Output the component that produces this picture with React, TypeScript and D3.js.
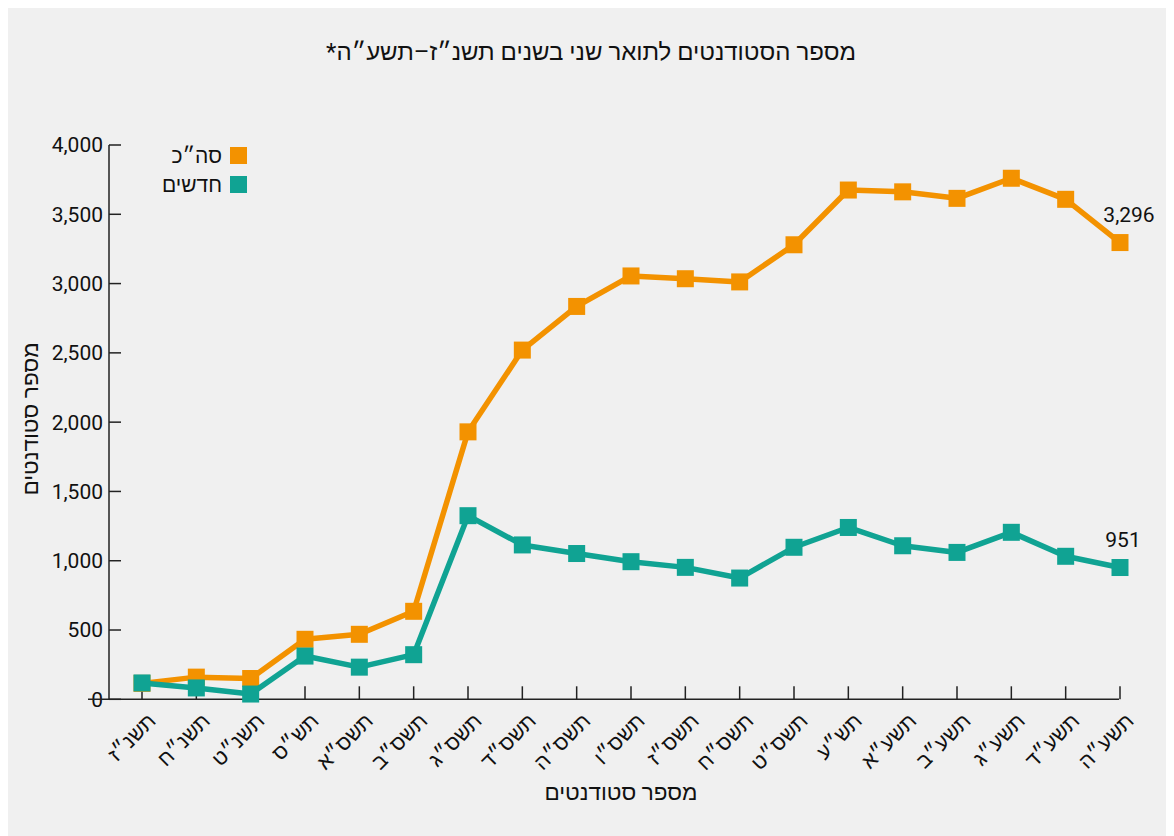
import { scaleLinear, scalePoint, line, format } from 'd3';
import { useEffect } from 'react';

const years = [
  'תשנ״ז', 'תשנ״ח', 'תשנ״ט', 'תש״ס', 'תשס״א', 'תשס״ב', 'תשס״ג', 'תשס״ד', 'תשס״ה', 'תשס״ו',
  'תשס״ז', 'תשס״ח', 'תשס״ט', 'תש״ע', 'תשע״א', 'תשע״ב', 'תשע״ג', 'תשע״ד', 'תשע״ה',
];
const total = [
  115, 160, 150, 433, 469, 635, 1930, 2520, 2835, 3055, 3035, 3012, 3280, 3675, 3662, 3615, 3760,
  3608, 3296,
];
const newcomers = [
  118, 82, 38, 312, 232, 322, 1325, 1114, 1052, 993, 952, 875, 1097, 1240, 1108, 1060, 1205, 1032,
  951,
];
const yTicks = [0, 500, 1000, 1500, 2000, 2500, 3000, 3500, 4000];

const seriesNames = ['סה״כ', 'חדשים'];
const colors = ['#f39200', '#10a393'];

const W = 1166;
const H = 828;
const FONT = "Roboto, 'Liberation Sans', Arial, sans-serif";

export default function App() {
  useEffect(() => {
    document.documentElement.style.overflow = 'hidden';
  }, []);

  const x = scalePoint<string>().domain(years).range([134, 1112]);
  const y = scaleLinear().domain([0, 4000]).range([691.3, 137]);
  const fmt = format(',');

  const path = line<number>()
    .x((d, i) => x(years[i])!)
    .y(d => y(d));

  const series = [total, newcomers];
  const sq = 17;

  return (
    <svg width={W} height={H} style={{ display: 'block', background: '#f0f0f0' }} fontFamily={FONT}>
      <text x={583} y={52} fontSize={24} textAnchor="middle" direction="rtl" fill="#111">
        מספר הסטודנטים לתואר שני בשנים תשנ״ז–תשע״ה*
      </text>

      {/* y axis */}
      <line x1={101} x2={101} y1={y(4000)} y2={y(0)} stroke="#222" strokeWidth={1.5} />
      {yTicks.map(t => (
        <g key={t}>
          <line x1={101} x2={113} y1={y(t)} y2={y(t)} stroke="#222" strokeWidth={1.5} />
          <text x={95} y={y(t)} dy="0.35em" fontSize={21} textAnchor="end" fill="#111">
            {fmt(t)}
          </text>
        </g>
      ))}

      {/* x axis */}
      <line x1={80} x2={1111} y1={y(0)} y2={y(0)} stroke="#222" strokeWidth={1.5} />
      {years.map(yr => (
        <g key={yr}>
          <line x1={x(yr)} x2={x(yr)} y1={y(0)} y2={y(0) - 13} stroke="#222" strokeWidth={1.5} />
          <text
            transform={`translate(${x(yr)! + 15},${y(0) + 23}) rotate(-45)`}
            fontSize={21}
            textAnchor="end"
            fill="#111"
          >
            {yr}
          </text>
        </g>
      ))}

      <text x={613} y={792} fontSize={22.5} textAnchor="middle" fill="#111">
        מספר סטודנטים
      </text>
      <text transform="translate(30,411) rotate(-90)" fontSize={22.5} textAnchor="middle" fill="#111">
        מספר סטודנטים
      </text>

      {/* lines and markers */}
      {series.map((s, k) => (
        <g key={k}>
          <path d={path(s)!} fill="none" stroke={colors[k]} strokeWidth={5.5} strokeLinejoin="round" />
          {s.map((v, i) => (
            <rect
              key={i}
              x={x(years[i])! - sq / 2}
              y={y(v) - sq / 2}
              width={sq}
              height={sq}
              fill={colors[k]}
            />
          ))}
        </g>
      ))}

      {/* end labels */}
      <text x={1121} y={y(total[total.length - 1]) - 21} fontSize={21} textAnchor="middle" fill="#111">
        {fmt(total[total.length - 1])}
      </text>
      <text x={1115} y={y(newcomers[newcomers.length - 1]) - 21} fontSize={21} textAnchor="middle" fill="#111">
        {fmt(newcomers[newcomers.length - 1])}
      </text>

      {/* legend */}
      {seriesNames.map((n, k) => (
        <g key={n} transform={`translate(0,${k * 29})`}>
          <rect x={222} y={139} width={17} height={17} fill={colors[k]} />
          <text x={214} y={148} dy="0.35em" fontSize={21} textAnchor="end" fill="#111">
            {n}
          </text>
        </g>
      ))}
    </svg>
  );
}
